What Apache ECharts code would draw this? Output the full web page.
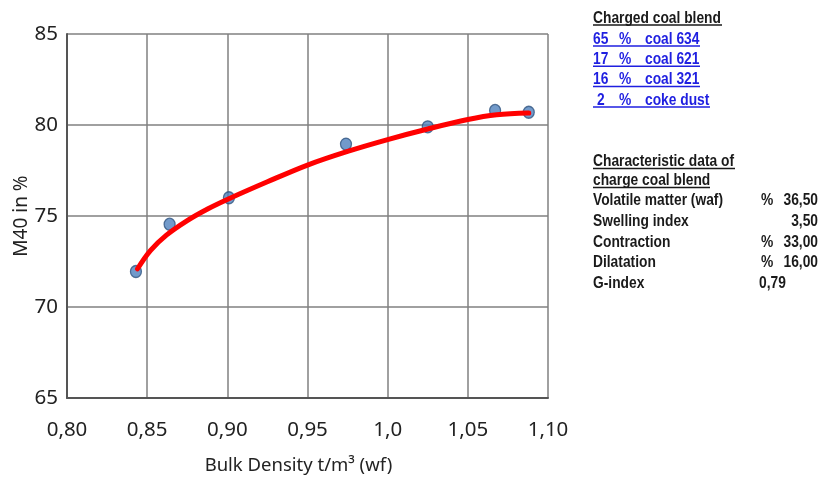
<!DOCTYPE html>
<html lang="en">
<head>
    <meta charset="UTF-8">
    <title>M40 vs bulk density</title>
    <script src="https://cdn.jsdelivr.net/npm/echarts@6/dist/echarts.min.js"></script>
    <style>
        html, body { margin: 0; padding: 0; background: #fff; }
    </style>
</head>
<body>
    <div id="main" style="width: 820px;height:477px;"></div>
    <script type="text/javascript">
        // measured points (bulk density, M40)
        const bulkDensity = [0.843, 0.864, 0.901, 0.974, 1.025, 1.067, 1.088];
        const m40 = [71.95, 74.55, 76.0, 78.95, 79.9, 80.8, 80.7];
        // red trend curve
        const fitX = [0.844, 0.852, 0.862, 0.875, 0.888, 0.901, 0.925, 0.950, 0.975, 1.0, 1.025, 1.050, 1.068, 1.088];
        const fitY = [72.1, 73.1, 73.95, 74.75, 75.4, 75.95, 76.88, 77.8, 78.55, 79.2, 79.78, 80.3, 80.56, 80.66];
        const xTicks = { 0.8: '0,80', 0.85: '0,85', 0.9: '0,90', 0.95: '0,95', 1: '1,0', 1.05: '1,05', 1.1: '1,10' };

        // side notes
        const blendPct = ['65', '17', '16', '2'];
        const blendName = ['coal 634', 'coal 621', 'coal 321', 'coke dust'];
        const charLabels = ['Volatile matter (waf)', 'Swelling index', 'Contraction', 'Dilatation', 'G-index'];
        const charUnits = ['%', '', '%', '%', ''];
        const charValues = ['36,50', '3,50', '33,00', '16,00', '0,79'];

        const noteFont = 'bold 17px "Liberation Sans", Arial, sans-serif';
        const blue = '#1f1fe0';
        const dark = '#1a1a1a';

        // the notes are set in a narrow face: squeeze a normal one to the same width
        const ctx = document.createElement('canvas').getContext('2d');
        ctx.font = noteFont;
        const squeeze = 130 / ctx.measureText('Volatile matter (waf)').width;

        function txt(text, x, y, fill, align) {
            return {
                type: 'text', silent: true, x: x, y: y, scaleX: squeeze,
                style: { text: text, x: 0, y: 0, font: noteFont, fill: fill, textAlign: align || 'left', textVerticalAlign: 'middle' }
            };
        }
        function uline(x1, x2, y, color) {
            return { type: 'line', silent: true, shape: { x1: x1, y1: y, x2: x2, y2: y }, style: { stroke: color, lineWidth: 1.5 } };
        }

        let graphics = [];
        graphics.push(txt('Charged coal blend', 593, 18, dark));
        graphics.push(uline(593, 722, 25, dark));
        const blendEnds = [700, 700, 700, 710];
        blendPct.forEach((p, i) => {
            const y = 39 + i * 20.3;
            graphics.push(txt(p, p.length < 2 ? 597 : 593, y, blue));
            graphics.push(txt('%', 619, y, blue));
            graphics.push(txt(blendName[i], 645, y, blue));
            graphics.push(uline(593, blendEnds[i], y + 7, blue));
        });
        graphics.push(txt('Characteristic data of', 593, 161, dark));
        graphics.push(uline(593, 735, 168.5, dark));
        graphics.push(txt('charge coal blend', 593, 180, dark));
        graphics.push(uline(593, 710, 187.5, dark));
        charLabels.forEach((l, i) => {
            const y = 200.5 + i * 20.7;
            graphics.push(txt(l, 593, y, dark));
            if (charUnits[i]) graphics.push(txt(charUnits[i], 761, y, dark));
            if (i === charLabels.length - 1) graphics.push(txt(charValues[i], 759, y, dark));
            else graphics.push(txt(charValues[i], 818, y, dark, 'right'));
        });

        const myChartDom = echarts.init(document.getElementById('main'));
        let option = {
            backgroundColor: '#fff',
            animation: false,
            grid: { left: 67, right: 272, top: 34, bottom: 79, containLabel: false, outerBoundsMode: 'none' },
            xAxis: {
                type: 'value',
                min: 0.8,
                max: 1.1,
                interval: 0.05,
                name: 'Bulk Density t/m³ (wf)',
                nameLocation: 'middle',
                nameGap: 58,
                nameMoveOverlap: false,
                nameTextStyle: { fontFamily: 'Noto Sans', fontSize: 18.5, color: '#222', padding: [0, 18, 0, 0] },
                axisLine: { show: true, lineStyle: { color: '#555', width: 2 } },
                axisTick: { show: false },
                axisLabel: {
                    margin: 22,
                    fontFamily: 'Noto Sans', fontSize: 20.5, color: '#222',
                    formatter: v => xTicks[Math.round(v * 100) / 100] || ''
                },
                splitLine: { show: true, lineStyle: { color: '#808080', width: 1.5 } }
            },
            yAxis: {
                type: 'value',
                min: 65,
                max: 85,
                interval: 5,
                name: 'M40 in %',
                nameLocation: 'middle',
                nameGap: 36,
                nameMoveOverlap: false,
                nameTextStyle: { fontFamily: 'Noto Sans', fontSize: 19, color: '#222' },
                axisLine: { show: true, lineStyle: { color: '#555', width: 2 } },
                axisTick: { show: false },
                axisLabel: { margin: 9, fontFamily: 'Noto Sans', fontSize: 20.5, color: '#222' },
                splitLine: { show: true, lineStyle: { color: '#808080', width: 1.5 } }
            },
            graphic: graphics,
            series: [
                {
                    name: 'measured',
                    type: 'scatter',
                    symbol: 'circle',
                    symbolSize: [11, 12],
                    itemStyle: { color: '#4f81bd', borderColor: '#30547f', borderWidth: 1.3 },
                    data: bulkDensity.map((x, i) => [x, m40[i]]),
                    z: 2
                },
                {
                    name: 'fit',
                    type: 'line',
                    smooth: 0.35,
                    showSymbol: false,
                    lineStyle: { color: '#ff0000', width: 5, cap: 'round' },
                    data: fitX.map((x, i) => [x, fitY[i]]),
                    z: 3
                }
            ]
        };
        myChartDom.setOption(option);
    </script>
</body>
</html>
